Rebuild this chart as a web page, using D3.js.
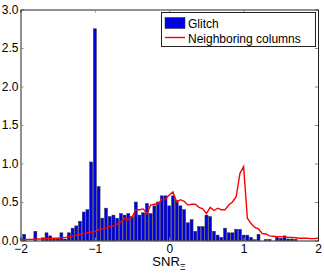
<!DOCTYPE html>
<html>
  <head>
    <meta charset="utf-8">
    <style>
      body { margin: 0; background: #fff; }
      svg { font-family: "Liberation Sans", Arial, sans-serif; }
    </style>
  </head>
  <body>
    <div id="chart"></div>
    <script src="https://d3js.org/d3.v7.min.js"></script>
    <script>
    // bin centres -2 : 0.05 : 2
    var centers = d3.range(81).map(function(i){ return +(-2 + i*0.05).toFixed(2); });

    var glitch = [
      0, 0.08, 0, 0, 0.12, 0, 0.035, 0.10, 0.06, 0.03,
      0.03, 0.10, 0.02, 0.10, 0.16, 0.19, 0.25, 0.37, 0.40, 1.02,
      2.75, 0.70, 0.29, 0.42, 0.31, 0.33, 0.29, 0.35, 0.33, 0.35,
      0.31, 0.50, 0.33, 0.36, 0.48, 0.35, 0.45, 0.50, 0.58, 0.58,
      0.45, 0.58, 0.52, 0.45, 0.40, 0.23, 0.27, 0.12, 0.18, 0.18,
      0.33, 0.31, 0.12, 0.07, 0.04, 0.16, 0.10, 0.10, 0.145, 0.145,
      0.07, 0.07, 0.04, 0.01, 0.08, 0, 0.015, 0.015, 0, 0.04,
      0.03, 0.06, 0.02, 0.02, 0.015, 0, 0, 0, 0, 0, 0
    ];

    var neighbors = [
      0.01, 0.01, 0.015, 0.015, 0.02, 0.02, 0.02, 0.025, 0.025, 0.03,
      0.03, 0.035, 0.04, 0.05, 0.06, 0.07, 0.08, 0.09, 0.10, 0.11,
      0.115, 0.14, 0.15, 0.16, 0.18, 0.19, 0.21, 0.24, 0.29, 0.27,
      0.30, 0.40, 0.40, 0.41, 0.35, 0.46, 0.47, 0.48, 0.53, 0.54,
      0.59, 0.63, 0.50, 0.53, 0.51, 0.46, 0.47, 0.47, 0.43, 0.41,
      0.35, 0.43, 0.39, 0.42, 0.40, 0.40, 0.46, 0.50, 0.57, 0.87,
      0.96, 0.29, 0.22, 0.17, 0.15, 0.09, 0.085, 0.06, 0.055, 0.05,
      0.05, 0.045, 0.04, 0.04, 0.035, 0.03, 0.03, 0.03, 0.025, 0.025, 0.03
    ];

    var xTicks = [-2, -1, 0, 1, 2];
    var yTicks = [0, 0.5, 1, 1.5, 2, 2.5, 3];

    var W = 324, H = 277;
    var pLeft = 20.5, pRight = 318, pTop = 9.5, pBottom = 240.5;

    var x = d3.scaleLinear().domain([-2, 2]).range([pLeft, pRight]);
    var y = d3.scaleLinear().domain([0, 3]).range([pBottom, pTop]);

    var svg = d3.select("#chart").append("svg")
      .attr("width", W).attr("height", H);

    var binW = x(0.05) - x(0);

    // bars
    svg.append("g").selectAll("rect")
      .data(glitch)
      .enter().append("rect")
      .attr("x", function(d, i){ return x(centers[i]) - binW*0.4; })
      .attr("width", binW*0.8)
      .attr("y", function(d){ return y(d); })
      .attr("height", function(d){ return pBottom - y(d); })
      .attr("fill", "#0000e6")
      .attr("stroke", "#333")
      .attr("stroke-width", 0.5)
      .style("display", function(d){ return d > 0 ? null : "none"; });

    // neighbouring columns line
    var line = d3.line()
      .x(function(d, i){ return x(centers[i]); })
      .y(function(d){ return y(d); });

    svg.append("path")
      .datum(neighbors)
      .attr("d", line)
      .attr("fill", "none")
      .attr("stroke", "#ff0000")
      .attr("stroke-width", 1.4);

    // axes, matlab style inward ticks
    svg.append("g")
      .attr("transform", "translate(0," + pBottom + ")")
      .call(d3.axisBottom(x).tickValues(xTicks).tickSize(-3).tickPadding(4)
        .tickFormat(function(d){ return d < 0 ? "\u2212" + Math.abs(d) : d; }));
    svg.append("g")
      .attr("transform", "translate(0," + pTop + ")")
      .call(d3.axisTop(x).tickValues(xTicks).tickSize(-3).tickFormat(""));
    svg.append("g")
      .attr("transform", "translate(" + pLeft + ",0)")
      .call(d3.axisLeft(y).tickValues(yTicks).tickSize(-3).tickPadding(2));
    svg.append("g")
      .attr("transform", "translate(" + pRight + ",0)")
      .call(d3.axisRight(y).tickValues(yTicks).tickSize(-3).tickFormat(""));

    svg.selectAll(".domain").attr("stroke", "#222");
    svg.selectAll(".tick line").attr("stroke", "#888");
    svg.selectAll(".tick text")
      .attr("font-size", 12)
      .attr("font-family", "Liberation Sans, Arial, sans-serif")
      .attr("fill", "#000");

    // x label
    var lab = svg.append("text")
      .attr("x", 169).attr("y", 266)
      .attr("text-anchor", "middle")
      .attr("font-size", 13);
    lab.append("tspan").text("SNR");
    lab.append("tspan").attr("font-size", 9).attr("dy", 4).text("\u039E");

    // legend
    var lg = svg.append("g");
    lg.append("rect")
      .attr("x", 161.5).attr("y", 12.5)
      .attr("width", 154).attr("height", 34)
      .attr("fill", "#fff").attr("stroke", "#222").attr("stroke-width", 1);
    lg.append("rect")
      .attr("x", 165).attr("y", 17.5)
      .attr("width", 20).attr("height", 11)
      .attr("fill", "#0000e6").attr("stroke", "#333").attr("stroke-width", 0.5);
    lg.append("line")
      .attr("x1", 165).attr("x2", 185).attr("y1", 37.5).attr("y2", 37.5)
      .attr("stroke", "#ff0000").attr("stroke-width", 1.4);
    lg.append("text").attr("x", 188).attr("y", 28).attr("font-size", 12).text("Glitch");
    lg.append("text").attr("x", 188).attr("y", 42.5).attr("font-size", 12).text("Neighboring columns");
    </script>
  </body>
</html>
